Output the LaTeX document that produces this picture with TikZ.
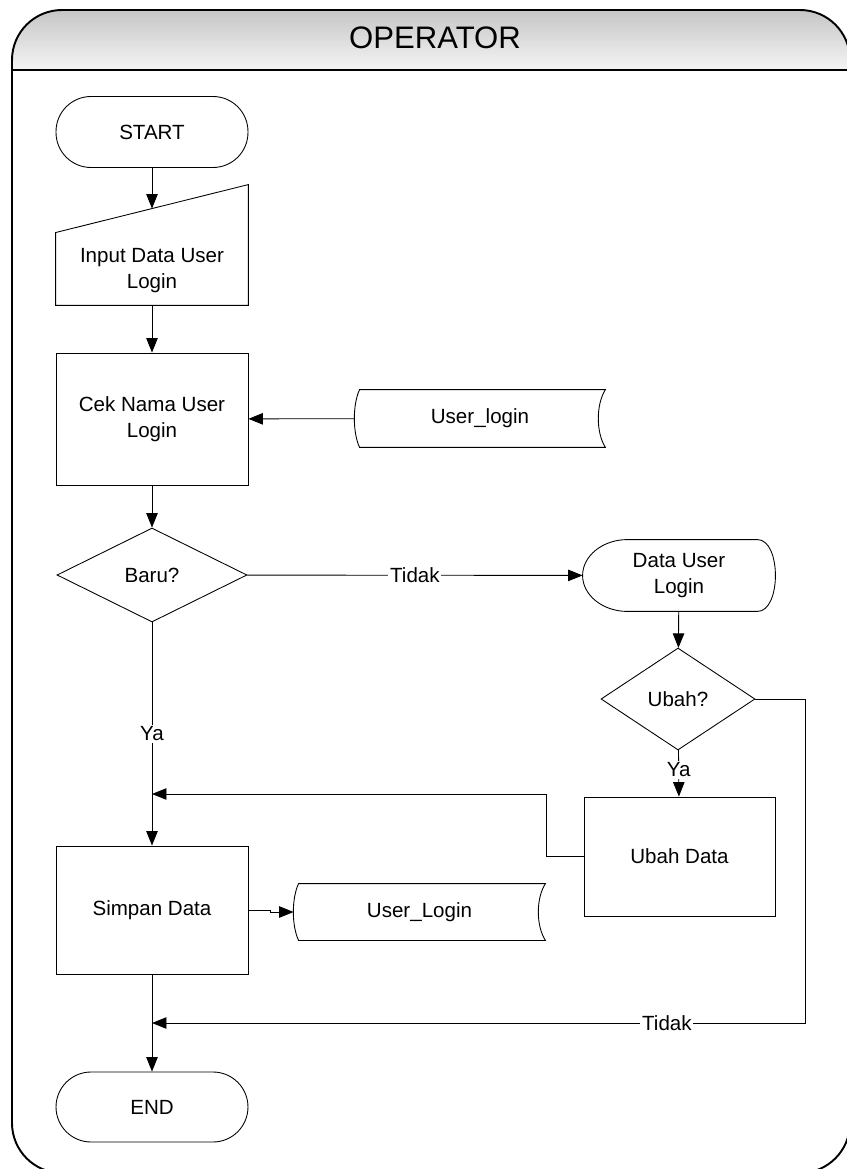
\documentclass[tikz,border=0pt]{standalone}
\usepackage{fontspec}
\setmainfont{Liberation Sans}
\usepackage{tikz}
\usetikzlibrary{positioning, shapes, calc, arrows.meta}

\tikzset{
	proc/.style={draw, rectangle, minimum width=3.84cm, inner sep=0pt},
	dec/.style={draw, diamond, inner sep=0pt},
	shp/.style={rectangle, inner sep=0pt},
	arr/.style={-{Triangle[length=0.29cm, width=0.23cm]}},
	lbl/.style={fill=white, inner sep=1pt}
}

\def\storedata#1{
	\draw ($(#1.north west)+(5,0)$) -- (#1.north east)
	.. controls ($(#1.north east)+(-9.5,15)$) and ($(#1.south east)+(-9.5,-15)$) .. (#1.south east)
	-- ($(#1.south west)+(5,0)$)
	.. controls ($(#1.south west)+(-2,-15)$) and ($(#1.north west)+(-2,15)$) .. cycle;
}

\begin{document}
\begin{tikzpicture}[x=0.02cm, y=-0.02cm, line width=0.5pt,
	every node/.style={font=\fontsize{11.7}{14.8}\selectfont, align=center}]

			\useasboundingbox (0,0) rectangle (846,1169);

			\begin{scope}
			\clip[rounded corners=1cm] (12,1173) -- (12,10) -- (850,10) -- (850,1173) -- cycle;
			\shade[top color=gray!45, bottom color=gray!8] (12,10) rectangle (850,70);
			\end{scope}
			\draw[line width=1.1pt, rounded corners=1cm] (12,1173) -- (12,10) -- (850,10) -- (850,1173) -- cycle;
			\draw[line width=1.1pt] (12,70) -- (850,70);
			\node[font=\fontsize{17.7}{20}\selectfont] (title) at (435,38) {OPERATOR};

			\node[proc, minimum height=1.42cm, rounded corners=0.7cm] (start) at (152,132) {START};
			\node[shp, minimum width=3.84cm, minimum height=1.44cm] (input) at (152,271) {Input Data User\\Login};
			\node[proc, minimum height=2.64cm] (cek) at (152,419) {Cek Nama User\\Login};
			\node[dec, minimum width=3.8cm, minimum height=1.88cm] (baru) at (152,575) {Baru?};
			\node[proc, minimum height=2.56cm] (simpan) at (152,910) {Simpan Data};
			\node[proc, minimum height=1.4cm, rounded corners=0.7cm] (end) at (152,1107) {END};

			\node[shp, minimum width=5cm, minimum height=1.14cm] (ulogin) at (480,418.5) {User\_login};
			\node[shp, minimum width=5.02cm, minimum height=1.12cm] (ulogin2) at (419.5,912) {User\_Login};
			\node[shp, minimum width=3.84cm, minimum height=1.42cm] (dul) at (679,575.5) {Data User\\Login};
			\node[dec, minimum width=3.08cm, minimum height=2.04cm] (ubah) at (678,699) {Ubah?};
			\node[proc, minimum width=3.82cm, minimum height=2.38cm] (ubahdata) at (679.5,856.5) {Ubah Data};

			\coordinate (join1) at (152,794);
			\coordinate (join2) at (152,1023);

			\draw ($(input.south west)+(0,-2)$) -- ($(input.north west)+(0,-2)$) -- ($(input.north east)+(0,-50)$) -- ($(input.south east)+(0,-2)$) -- cycle;
			\storedata{ulogin}
			\storedata{ulogin2}
			\draw ($(dul.north west)+(45,0)$) -- ($(dul.north east)+(-18,0)$)
			.. controls ($(dul.north east)+(6,0)$) and ($(dul.south east)+(6,0)$) .. ($(dul.south east)+(-18,0)$)
			-- ($(dul.south west)+(45,0)$)
			.. controls ($(dul.south west)+(20,0)$) and ($(dul.west)+(0,19.6)$) .. (dul.west)
			.. controls ($(dul.west)+(0,-19.6)$) and ($(dul.north west)+(20,0)$) .. cycle;

			\draw[arr] (start) -- ($(input.north)+(0,-26)$);
			\draw[arr] ($(input.south)+(0,-2)$) -- (cek);
			\draw[arr] (ulogin) -- (cek);
			\draw[arr] (cek) -- (baru);
			\draw[arr] (baru) -- node[lbl] {Tidak} (dul);
			\draw[arr] (dul) -- (ubah);
			\draw[arr] (ubah) -- node[lbl, pos=0.42] {Ya} (ubahdata);
			\draw[arr] (ubahdata.west) -- ++(-37,0) |- (join1);
			\draw[arr] (ubah.east) -- ++(50,0) |- node[lbl, pos=0.606] {Tidak} (join2);
			\draw[arr] (baru) -- node[lbl] {Ya} (simpan);
			\draw[arr] (simpan.east) -- ++(22,0) |- (ulogin2.west);
			\draw[arr] (simpan) -- (end);
			\end{tikzpicture}
\end{document}
